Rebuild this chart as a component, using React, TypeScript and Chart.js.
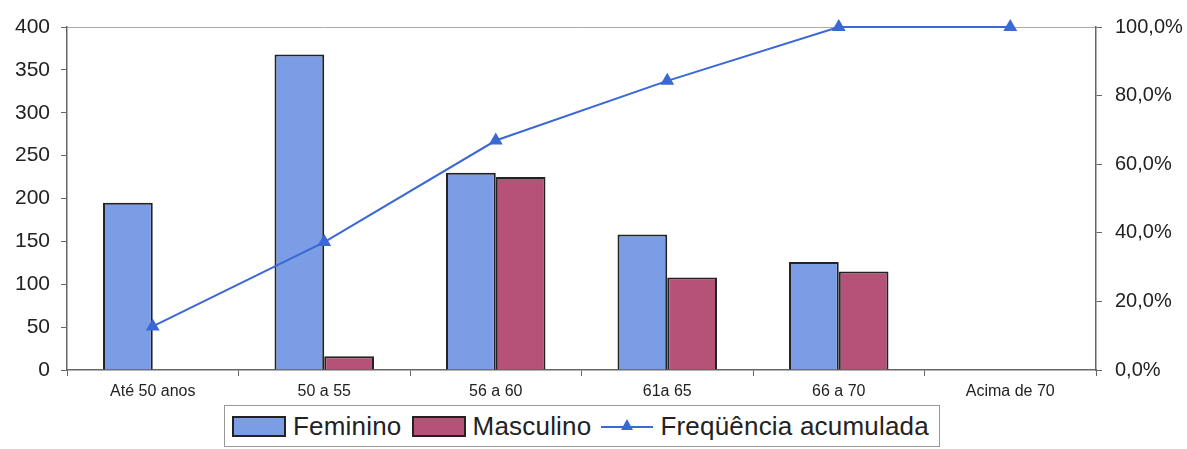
import React, { useEffect, useRef } from "react";
import { Chart, registerables } from "chart.js";

Chart.register(...registerables);

const categories = ["Até 50 anos", "50 a 55", "56 a 60", "61a 65", "66 a 70", "Acima de 70"];
const feminino = [195, 368, 230, 158, 126, 0];
const masculino = [0, 16, 225, 108, 115, 0];
const freqAcumulada = [12.7, 37.3, 66.9, 84.3, 100, 100];
const leftTicks = [0, 50, 100, 150, 200, 250, 300, 350, 400];
const rightTicks = [0, 20, 40, 60, 80, 100];

const FONT = "'Liberation Sans', Arial, sans-serif";
const BLUE = "#7B9DE6";
const RED = "#B65178";
const LINE = "#3A68D4";
const AXIS = "#666666";

export default function App() {
  const ref = useRef<HTMLCanvasElement | null>(null);

  useEffect(() => {
    document.body.style.margin = "0";
    const canvas = ref.current;
    if (!canvas) return;
    const chart = new Chart(canvas, {
      type: "bar",
      data: {
        labels: categories,
        datasets: [
          {
            type: "line",
            label: "Freqüência acumulada",
            data: freqAcumulada,
            yAxisID: "y1",
            borderColor: LINE,
            backgroundColor: LINE,
            borderWidth: 2,
            pointStyle: "triangle",
            pointRadius: 6,
            pointBackgroundColor: LINE,
            pointBorderColor: LINE,
            clip: false,
            order: 0,
          } as any,
          {
            label: "Feminino",
            data: feminino,
            backgroundColor: BLUE,
            borderColor: "#222222",
            borderWidth: 2,
            borderSkipped: "bottom",
            yAxisID: "y",
            order: 1,
          },
          {
            label: "Masculino",
            data: masculino,
            backgroundColor: RED,
            borderColor: "#222222",
            borderWidth: 2,
            borderSkipped: "bottom",
            yAxisID: "y",
            order: 1,
          },
        ],
      },
      options: {
        animation: false,
        responsive: false,
        maintainAspectRatio: false,
        layout: { padding: { top: 27, left: 0, right: 0, bottom: 49 } },
        datasets: {
          bar: { categoryPercentage: 0.58, barPercentage: 1 },
        },
        plugins: {
          legend: { display: false },
          tooltip: { enabled: false },
        },
        scales: {
          x: {
            grid: {
              offset: true,
              drawOnChartArea: false,
              drawTicks: true,
              tickLength: 6,
              tickColor: AXIS,
            },
            border: { color: AXIS, width: 1.5 },
            ticks: {
              padding: 8,
              color: "#222",
              font: { family: FONT, size: 16, lineHeight: 1 },
              maxRotation: 0,
              autoSkip: false,
            },
            afterFit: (axis: any) => {
              axis.height = 30;
            },
          },
          y: {
            position: "left",
            min: 0,
            max: 400,
            afterBuildTicks: (axis: any) => {
              axis.ticks = leftTicks.map((v) => ({ value: v }));
            },
            grid: {
              color: (ctx: any) => (ctx.tick && ctx.tick.value === 400 ? "#aaaaaa" : "rgba(0,0,0,0)"),
              drawOnChartArea: true,
              tickLength: 6,
              tickColor: AXIS,
            },
            border: { color: AXIS, width: 1.5 },
            ticks: {
              padding: 11,
              color: "#222",
              font: { family: FONT, size: 21 },
            },
            afterFit: (axis: any) => {
              axis.width = 67;
            },
          },
          y1: {
            position: "right",
            min: 0,
            max: 100,
            afterBuildTicks: (axis: any) => {
              axis.ticks = rightTicks.map((v) => ({ value: v }));
            },
            grid: {
              drawOnChartArea: false,
              tickLength: 6,
              tickColor: AXIS,
            },
            border: { color: AXIS, width: 1.5 },
            ticks: {
              padding: 13,
              color: "#222",
              font: { family: FONT, size: 20 },
              callback: (v: any) => Number(v).toFixed(1).replace(".", ",") + "%",
            },
            afterFit: (axis: any) => {
              axis.width = 91;
            },
          },
        },
      },
    });
    return () => chart.destroy();
  }, []);

  const itemText: React.CSSProperties = {
    fontFamily: FONT,
    fontSize: 26,
    letterSpacing: "0.2px",
    color: "#222",
    marginLeft: 7,
    marginRight: 10,
    lineHeight: "26px",
    whiteSpace: "nowrap",
  };
  const swatch = (color: string): React.CSSProperties => ({
    width: 50,
    height: 17,
    background: color,
    border: "2px solid #222",
    boxSizing: "content-box",
    flex: "none",
  });

  return (
    <div style={{ position: "fixed", left: 0, top: 0, width: 1187, height: 449, background: "#fff" }}>
      <canvas ref={ref} width={1187} height={449} style={{ position: "absolute", left: 0, top: 0 }} />
      <div
        style={{
          position: "absolute",
          left: 224,
          top: 405,
          width: 716,
          height: 42,
          border: "1px solid #999",
          boxSizing: "border-box",
          display: "flex",
          alignItems: "center",
          paddingLeft: 7,
          background: "#fff",
          overflow: "hidden",
        }}
      >
        <div style={swatch(BLUE)} />
        <span style={itemText}>Feminino</span>
        <div style={swatch(RED)} />
        <span style={itemText}>Masculino</span>
        <div style={{ position: "relative", width: 52, height: 20, flex: "none" }}>
          <div style={{ position: "absolute", left: 0, right: 0, top: 10, height: 2, background: LINE }} />
          <div
            style={{
              position: "absolute",
              left: 20,
              top: 3,
              width: 0,
              height: 0,
              borderLeft: "6px solid transparent",
              borderRight: "6px solid transparent",
              borderBottom: "11px solid " + LINE,
            }}
          />
        </div>
        <span style={itemText}>Freqüência acumulada</span>
      </div>
    </div>
  );
}
